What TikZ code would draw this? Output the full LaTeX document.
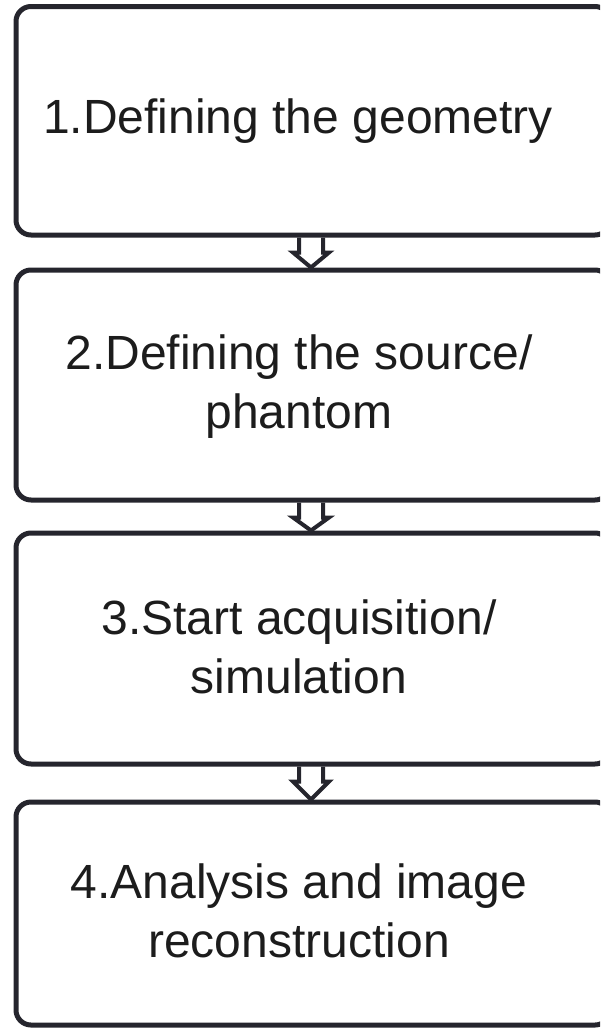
\documentclass[tikz,border=0pt]{standalone}
\usepackage{fontspec}
\setmainfont{Liberation Sans}
\usetikzlibrary{calc}
\definecolor{boxline}{HTML}{25252D}
\definecolor{textcol}{HTML}{1C1C1C}
\begin{document}
\begin{tikzpicture}[x=1pt,y=-1pt,
  stepbox/.style={draw=boxline, line width=5pt, rounded corners=15pt,
    minimum width=594pt, inner sep=0pt},
  steptext/.style={align=center, inner sep=0pt, text=textcol,
    font=\fontsize{48}{59}\selectfont},
  flowarrow/.style={draw=boxline, line width=4pt, line join=miter}]
\useasboundingbox (0,0) rectangle (600,1028);
\clip (0,0) rectangle (600,1028);
% process steps
\node[stepbox, minimum height=228.5pt] (b1) at (313,120.75) {};
\node[stepbox, minimum height=230pt] (b2) at (313,385) {};
\node[stepbox, minimum height=231pt] (b3) at (313,648.5) {};
\node[stepbox, minimum height=223pt] (b4) at (313,913.5) {};
% step labels
\node[steptext] (t1) at ($(b1)+(-15,0)$) {1.Defining the geometry};
\node[steptext] (t2) at ($(b2)+(-14,2)$) {2.Defining the source/\\phantom};
\node[steptext] (t3) at ($(b3)+(-14,-2)$) {3.Start acquisition/\\simulation};
\node[steptext] (t4) at ($(b4)+(-14,-3)$) {4.Analysis and image\\reconstruction};
% hollow block arrows between consecutive steps
\foreach \a/\b in {b1/b2,b2/b3,b3/b4}{
  \draw[flowarrow] ($(\a.south)+(-14,0)$) -- ++(0,15) -- ++(-6,0)
    -- ($(\b.north)+(-2,0)$) -- ($(\a.south)+(16,15)$) -- ++(-6,0)
    -- ($(\a.south)+(10,0)$);
}
\end{tikzpicture}
\end{document}
